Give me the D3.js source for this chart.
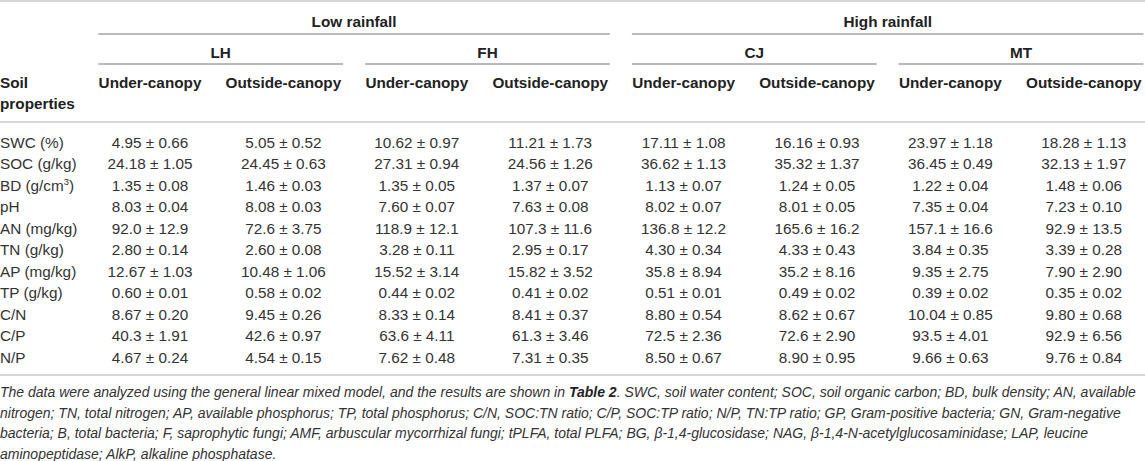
<!DOCTYPE html>
<html>
<head>
<meta charset="utf-8">
<script src="https://cdn.jsdelivr.net/npm/d3@7/dist/d3.min.js"></script>
<style>
  html, body { margin: 0; padding: 0; background: #fff; }
  svg { display: block; }
  text { font-family: "Liberation Sans", Arial, Helvetica, sans-serif; }
</style>
</head>
<body>
<svg id="tbl" width="1145" height="461"></svg>
<script>
// ---------------- DATA ----------------
const rainfallGroups = ["Low rainfall", "High rainfall"];
const sites = ["LH", "FH", "CJ", "MT"];
const siteRainfall = ["Low rainfall", "Low rainfall", "High rainfall", "High rainfall"];
const positions = ["Under-canopy", "Outside-canopy"];
const properties = ["SWC (%)", "SOC (g/kg)", "BD (g/cm^3)", "pH", "AN (mg/kg)", "TN (g/kg)",
                    "AP (mg/kg)", "TP (g/kg)", "C/N", "C/P", "N/P"];

const lhUnder   = ["4.95 ± 0.66", "24.18 ± 1.05", "1.35 ± 0.08", "8.03 ± 0.04", "92.0 ± 12.9", "2.80 ± 0.14", "12.67 ± 1.03", "0.60 ± 0.01", "8.67 ± 0.20", "40.3 ± 1.91", "4.67 ± 0.24"];
const lhOutside = ["5.05 ± 0.52", "24.45 ± 0.63", "1.46 ± 0.03", "8.08 ± 0.03", "72.6 ± 3.75", "2.60 ± 0.08", "10.48 ± 1.06", "0.58 ± 0.02", "9.45 ± 0.26", "42.6 ± 0.97", "4.54 ± 0.15"];
const fhUnder   = ["10.62 ± 0.97", "27.31 ± 0.94", "1.35 ± 0.05", "7.60 ± 0.07", "118.9 ± 12.1", "3.28 ± 0.11", "15.52 ± 3.14", "0.44 ± 0.02", "8.33 ± 0.14", "63.6 ± 4.11", "7.62 ± 0.48"];
const fhOutside = ["11.21 ± 1.73", "24.56 ± 1.26", "1.37 ± 0.07", "7.63 ± 0.08", "107.3 ± 11.6", "2.95 ± 0.17", "15.82 ± 3.52", "0.41 ± 0.02", "8.41 ± 0.37", "61.3 ± 3.46", "7.31 ± 0.35"];
const cjUnder   = ["17.11 ± 1.08", "36.62 ± 1.13", "1.13 ± 0.07", "8.02 ± 0.07", "136.8 ± 12.2", "4.30 ± 0.34", "35.8 ± 8.94", "0.51 ± 0.01", "8.80 ± 0.54", "72.5 ± 2.36", "8.50 ± 0.67"];
const cjOutside = ["16.16 ± 0.93", "35.32 ± 1.37", "1.24 ± 0.05", "8.01 ± 0.05", "165.6 ± 16.2", "4.33 ± 0.43", "35.2 ± 8.16", "0.49 ± 0.02", "8.62 ± 0.67", "72.6 ± 2.90", "8.90 ± 0.95"];
const mtUnder   = ["23.97 ± 1.18", "36.45 ± 0.49", "1.22 ± 0.04", "7.35 ± 0.04", "157.1 ± 16.6", "3.84 ± 0.35", "9.35 ± 2.75", "0.39 ± 0.02", "10.04 ± 0.85", "93.5 ± 4.01", "9.66 ± 0.63"];
const mtOutside = ["18.28 ± 1.13", "32.13 ± 1.97", "1.48 ± 0.06", "7.23 ± 0.10", "92.9 ± 13.5", "3.39 ± 0.28", "7.90 ± 2.90", "0.35 ± 0.02", "9.80 ± 0.68", "92.9 ± 6.56", "9.76 ± 0.84"];

const footnoteLines = [
  "The data were analyzed using the general linear mixed model, and the results are shown in **Table 2**. SWC, soil water content; SOC, soil organic carbon; BD, bulk density; AN, available",
  "nitrogen; TN, total nitrogen; AP, available phosphorus; TP, total phosphorus; C/N, SOC:TN ratio; C/P, SOC:TP ratio; N/P, TN:TP ratio; GP, Gram-positive bacteria; GN, Gram-negative",
  "bacteria; B, total bacteria; F, saprophytic fungi; AMF, arbuscular mycorrhizal fungi; tPLFA, total PLFA; BG, β-1,4-glucosidase; NAG, β-1,4-N-acetylglucosaminidase; LAP, leucine",
  "aminopeptidase; AlkP, alkaline phosphatase."
];

// ---------------- LAYOUT ----------------
const W = 1145, H = 461;
const columns = [];
sites.forEach(s => positions.forEach(p => columns.push({ site: s, pos: p, key: s + "|" + p })));
const columnValues = [lhUnder, lhOutside, fhUnder, fhOutside, cjUnder, cjOutside, mtUnder, mtOutside];

const x = d3.scaleBand().domain(columns.map(c => c.key)).range([83.3, 83.3 + 8 * 133.4]).paddingInner(0);
const bw = x.bandwidth();
const cx = k => x(k) + bw / 2;
const padL = 15, padR = 7;

function spanOf(keys) {
  const a = x(keys[0]) + padL;
  const b = Math.min(W, x(keys[keys.length - 1]) + bw - padR);
  return [a, b, (a + b) / 2];
}
const siteCols = s => columns.filter(c => c.site === s).map(c => c.key);
const groupCols = g => columns.filter(c => siteRainfall[sites.indexOf(c.site)] === g).map(c => c.key);

const rowY = d3.scalePoint().domain(properties).range([142, 357]);
const footY = d3.scalePoint().domain(d3.range(footnoteLines.length)).range([392, 454]);

const FS = 15.3;
const FF = 14;
const base = FS * 0.36;
const ink = "#333";
const head = "#222";

const svg = d3.select("#tbl");

function rule(x1, x2, y, color, w) {
  svg.append("line").attr("x1", x1).attr("x2", x2).attr("y1", y).attr("y2", y)
    .attr("stroke", color).attr("stroke-width", w);
}
rule(0, W, 1, "#d6d6d6", 2);
rule(0, W, 122, "#d6d6d6", 2);
rule(0, W, 375, "#d6d6d6", 2);

// rainfall group headers
rainfallGroups.forEach(g => {
  const [a, b, c] = spanOf(groupCols(g));
  rule(a, b, 34, "#777", 1.2);
  svg.append("text").attr("x", c).attr("y", 21 + base).attr("text-anchor", "middle")
    .attr("font-size", FS).attr("font-weight", "bold").attr("fill", head).text(g);
});

// site headers
sites.forEach(s => {
  const [a, b, c] = spanOf(siteCols(s));
  rule(a, b, 64, "#777", 1.2);
  svg.append("text").attr("x", c).attr("y", 52 + base).attr("text-anchor", "middle")
    .attr("font-size", FS).attr("font-weight", "bold").attr("fill", head).text(s);
});

// column headers
svg.append("text").attr("x", 0).attr("y", 82 + base).attr("font-size", FS)
  .attr("font-weight", "bold").attr("fill", head).text("Soil");
svg.append("text").attr("x", 0).attr("y", 103 + base).attr("font-size", FS)
  .attr("font-weight", "bold").attr("fill", head).text("properties");
svg.selectAll("text.colhead").data(columns).join("text").attr("class", "colhead")
  .attr("x", d => cx(d.key)).attr("y", 82 + base).attr("text-anchor", "middle")
  .attr("font-size", FS).attr("font-weight", "bold").attr("fill", head)
  .text(d => d.pos);

// row labels
svg.selectAll("text.rowlab").data(properties).join("text").attr("class", "rowlab")
  .attr("x", 0).attr("y", d => rowY(d) + base).attr("font-size", FS).attr("fill", ink)
  .each(function(d) {
    const t = d3.select(this);
    const m = d.match(/^(.*)\^(\d)(.*)$/);
    if (m) {
      t.append("tspan").text(m[1]);
      t.append("tspan").attr("font-size", FS * 0.62).attr("dy", -5.5).text(m[2]);
      t.append("tspan").attr("dy", 5.5).text(m[3]);
    } else t.text(d);
  });

// cells
const cells = [];
columns.forEach((c, ci) => properties.forEach((p, ri) => cells.push({ col: c.key, prop: p, v: columnValues[ci][ri] })));
svg.selectAll("text.cell").data(cells).join("text").attr("class", "cell")
  .attr("x", d => cx(d.col)).attr("y", d => rowY(d.prop) + base)
  .attr("text-anchor", "middle").attr("font-size", FS).attr("fill", ink)
  .text(d => d.v);

// footnote
svg.selectAll("text.foot").data(footnoteLines).join("text").attr("class", "foot")
  .attr("x", 0).attr("y", (d, i) => footY(i) + FF * 0.36)
  .attr("font-size", FF).attr("font-style", "italic").attr("fill", ink)
  .each(function(d) {
    const t = d3.select(this);
    d.split(/(\*\*[^*]+\*\*)/).forEach(part => {
      if (!part) return;
      if (part.startsWith("**")) t.append("tspan").attr("font-weight", "bold").attr("fill", head).text(part.slice(2, -2));
      else t.append("tspan").text(part);
    });
  });
</script>
</body>
</html>
